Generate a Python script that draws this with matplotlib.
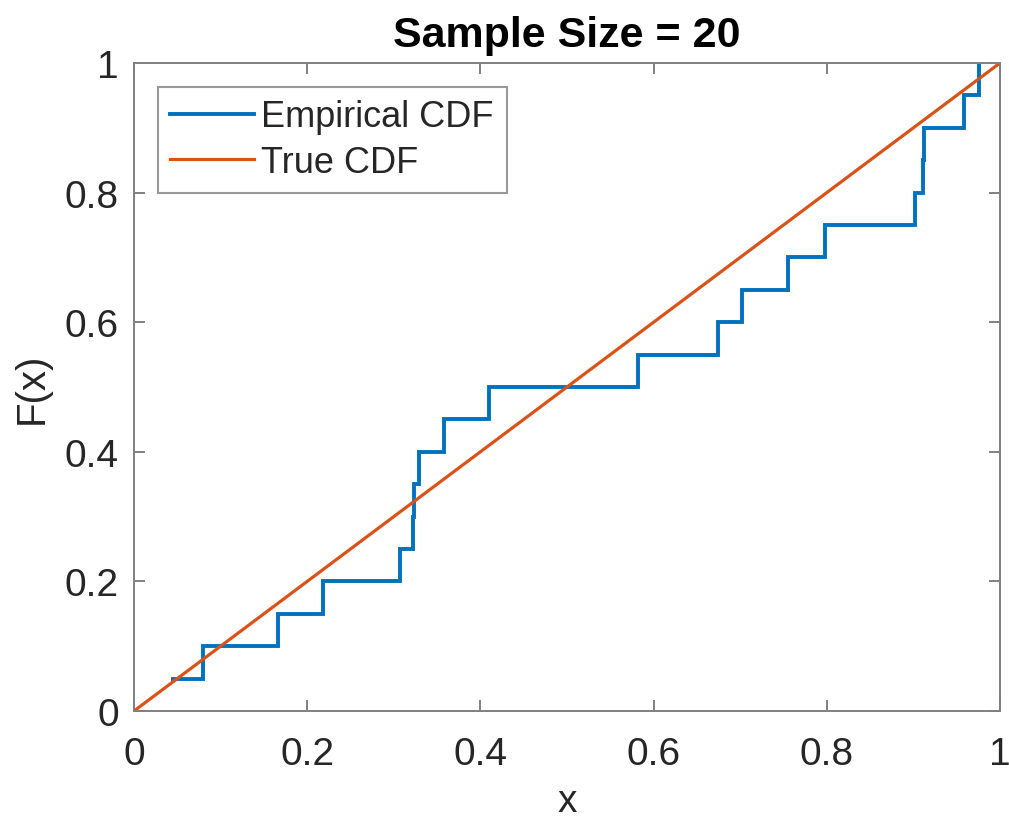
import matplotlib
matplotlib.use("Agg")
import matplotlib.pyplot as plt
import numpy as np

plt.rcParams['font.family'] = ['Liberation Sans', 'DejaVu Sans']

# sorted sample values (read from the step positions)
sample = [0.0447, 0.0793, 0.166, 0.2186, 0.307, 0.3218, 0.3233, 0.3295, 0.358,
          0.4103, 0.5816, 0.674, 0.7017, 0.7556, 0.798, 0.9018, 0.9115, 0.9122,
          0.9588, 0.976]
ecdf_levels = [0.05, 0.10, 0.15, 0.20, 0.25, 0.30, 0.35, 0.40, 0.45, 0.50,
               0.55, 0.60, 0.65, 0.70, 0.75, 0.80, 0.85, 0.90, 0.95, 1.00]
true_x = [0, 1]
true_y = [0, 1]
ticks = [0, 0.2, 0.4, 0.6, 0.8, 1]
tick_labels = ['0', '0.2', '0.4', '0.6', '0.8', '1']

W, H = 1009, 829
fig = plt.figure(figsize=(W / 100, H / 100), dpi=100)
ax = fig.add_axes([134 / W, 1 - 712 / H, (1000 - 134) / W, (712 - 64) / H])

# build stairs from the sample
xs = [sample[0]]
ys = [ecdf_levels[0]]
for i in range(1, len(sample)):
    xs += [sample[i], sample[i]]
    ys += [ecdf_levels[i - 1], ecdf_levels[i]]

ax.plot(xs, ys, color='#0072BD', lw=2.8, label='Empirical CDF', solid_joinstyle='miter')
ax.plot(true_x, true_y, color='#D95319', lw=2.3, label='True CDF')

ax.set_xlim(0, 1)
ax.set_ylim(0, 1)
ax.set_xticks(ticks)
ax.set_xticklabels(tick_labels)
ax.set_yticks(ticks)
ax.set_yticklabels(tick_labels)
axc = '#808080'
for s in ax.spines.values():
    s.set_color(axc)
    s.set_linewidth(1.4)
ax.tick_params(direction='in', length=8, width=1.4, color=axc, labelsize=28,
               labelcolor='#262626', top=True, right=True)
ax.tick_params(axis='x', pad=18)
ax.tick_params(axis='y', pad=11)
ax.set_xlabel('x', fontsize=28, color='#262626', labelpad=8)
ax.set_ylabel('F(x)', fontsize=29, color='#262626', labelpad=10)
ax.set_title('Sample Size = 20', fontsize=31, fontweight='bold', pad=12)

leg = ax.legend(loc='upper left', fontsize=26, frameon=True, fancybox=False,
                edgecolor='#808080', handlelength=2.3, borderaxespad=0.66,
                labelspacing=0.29, handletextpad=0.22, borderpad=0.35)
leg.get_frame().set_linewidth(1.5)
for t in leg.get_texts():
    t.set_color('#262626')

fig.savefig('out.png', dpi=100)
